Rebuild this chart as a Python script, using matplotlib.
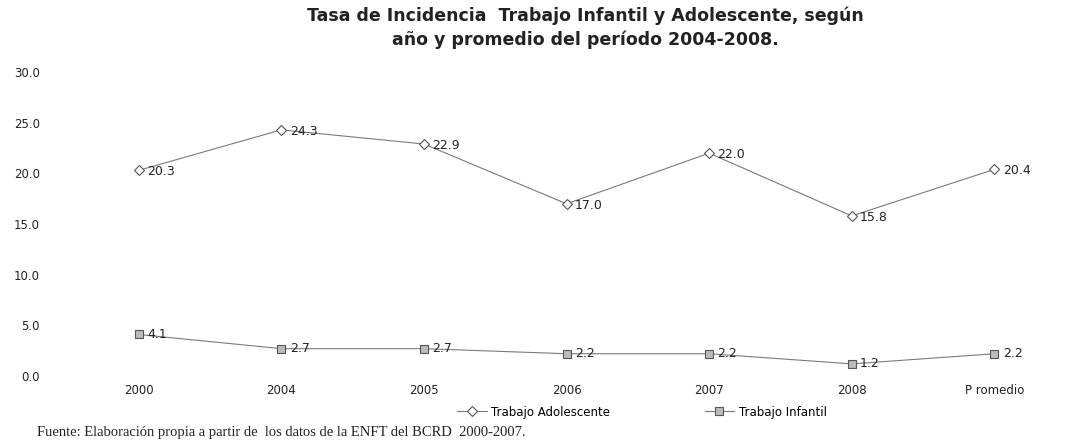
import matplotlib as mpl
import matplotlib.pyplot as plt
from matplotlib.ticker import FormatStrFormatter

mpl.rcParams.update({
    "font.family": "DejaVu Sans",
    "font.size": 8,
})

CATEGORIES = ["2000", "2004", "2005", "2006", "2007", "2008", "P romedio"]
ADOLESCENTE = [20.3, 24.3, 22.9, 17.0, 22.0, 15.8, 20.4]
INFANTIL = [4.1, 2.7, 2.7, 2.2, 2.2, 1.2, 2.2]
Y_TICKS = [0, 5, 10, 15, 20, 25, 30]

C_LINE = "#7a7a7a"
C_TEXT = "#222222"


def main():
    fig = plt.figure(figsize=(10.7, 4.45), dpi=100)
    ax = fig.add_axes([0.063, 0.155, 0.933, 0.683])
    x = list(range(len(CATEGORIES)))

    ax.plot(x, ADOLESCENTE, color=C_LINE, lw=0.8, marker="D", ms=5,
            mfc="white", mec="#555555", mew=0.8, label="Trabajo Adolescente")
    ax.plot(x, INFANTIL, color=C_LINE, lw=0.8, marker="s", ms=6,
            mfc="#bbbbbb", mec="#555555", mew=0.8, label="Trabajo Infantil")

    for xi, v in zip(x, ADOLESCENTE):
        ax.annotate(f"{v:.1f}", (xi, v), textcoords="offset points",
                    xytext=(6, -1), ha="left", va="center",
                    fontsize=9, color=C_TEXT)
    for xi, v in zip(x, INFANTIL):
        ax.annotate(f"{v:.1f}", (xi, v), textcoords="offset points",
                    xytext=(6, 0), ha="left", va="center",
                    fontsize=9, color=C_TEXT)

    ax.set_xlim(-0.5, len(CATEGORIES) - 0.5)
    ax.set_ylim(0, 30)
    ax.set_yticks(Y_TICKS)
    ax.yaxis.set_major_formatter(FormatStrFormatter("%.1f"))
    ax.set_xticks(x)
    ax.set_xticklabels(CATEGORIES)
    ax.tick_params(length=0, labelsize=8.5, colors=C_TEXT, pad=6)
    ax.tick_params(axis="y", pad=20)
    for sp in ax.spines.values():
        sp.set_visible(False)

    fig.text(0.547, 0.938, "Tasa de Incidencia  Trabajo Infantil y Adolescente, según\n"
             "año y promedio del período 2004-2008.",
             ha="center", va="center", fontsize=12.5, fontweight="semibold",
             linespacing=1.35, color=C_TEXT)

    fig.legend(loc="center", bbox_to_anchor=(0.6, 0.074), ncol=2, frameon=False,
               fontsize=8.5, handlelength=2.5, columnspacing=8, handletextpad=0.4)

    fig.text(0.035, 0.028,
             "Fuente: Elaboración propia a partir de  los datos de la ENFT del BCRD  2000-2007.",
             ha="left", va="center", fontsize=10.5, family="Liberation Serif",
             color=C_TEXT)

    fig.savefig("out.png", dpi=100)


if __name__ == "__main__":
    main()
